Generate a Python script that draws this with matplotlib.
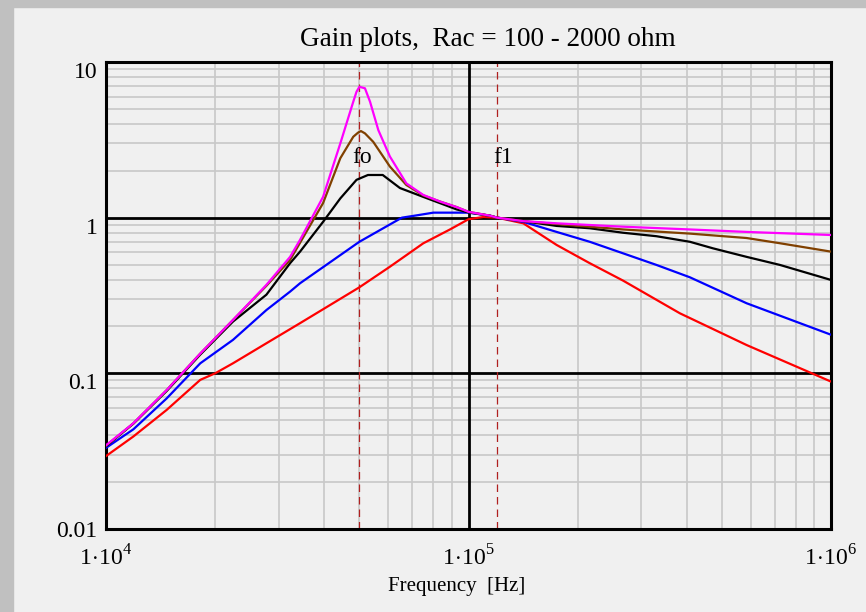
import matplotlib.pyplot as plt
import matplotlib.patches as patches
from matplotlib.ticker import FixedLocator, NullFormatter

plt.rcParams['font.family'] = ['Liberation Serif', 'DejaVu Serif']
plt.rcParams['mathtext.fontset'] = 'custom'
plt.rcParams['mathtext.rm'] = 'Liberation Serif'

# gain curves, one per load resistance (Hz, gain)
f_red = [10e3, 11.9e3, 14.7e3, 18.2e3, 20e3, 22.4e3, 27.7e3, 34.3e3, 39.7e3, 50e3, 60.7e3,
         75e3, 88.9e3, 100e3, 110e3, 120e3, 141.6e3, 175e3, 216e3, 267e3, 383e3, 585e3, 1e6]
g_red = [0.0294, 0.0393, 0.0582, 0.0908, 0.1, 0.116, 0.156, 0.21, 0.258, 0.357, 0.484,
         0.684, 0.84, 0.977, 1.01, 1.0, 0.92, 0.668, 0.51, 0.394, 0.243, 0.152, 0.0885]

f_blue = [10e3, 11.9e3, 14.7e3, 18.2e3, 22.4e3, 27.7e3, 32.2e3, 34.3e3, 50e3, 65.5e3, 72e3,
          80e3, 100e3, 114.6e3, 120e3, 141.6e3, 175e3, 216e3, 267e3, 330e3, 408e3, 585e3, 1e6]
g_blue = [0.0332, 0.0437, 0.069, 0.116, 0.164, 0.255, 0.335, 0.379, 0.70, 1.0, 1.035,
          1.077, 1.077, 1.03, 1.0, 0.94, 0.81, 0.70, 0.59, 0.497, 0.414, 0.282, 0.177]

f_black = [10e3, 11.9e3, 14.7e3, 18.2e3, 22.4e3, 27.7e3, 32.2e3, 34.3e3, 39.7e3, 44.3e3, 49.1e3,
           52.8e3, 58e3, 64.7e3, 75e3, 83.4e3, 92.7e3, 100e3, 114.6e3, 120e3, 141.6e3, 175e3,
           216e3, 267e3, 330e3, 408e3, 473e3, 585e3, 723e3, 1e6]
g_black = [0.034, 0.0475, 0.077, 0.132, 0.215, 0.32, 0.51, 0.605, 0.94, 1.33, 1.75,
           1.88, 1.88, 1.55, 1.36, 1.24, 1.13, 1.08, 1.03, 1.0, 0.95, 0.885,
           0.855, 0.80, 0.76, 0.70, 0.635, 0.56, 0.497, 0.398]

f_brown = [10e3, 11.9e3, 14.7e3, 18.2e3, 22.4e3, 27.7e3, 32.2e3, 39.7e3, 44.3e3, 48.1e3, 49.6e3,
           50.5e3, 51.8e3, 54.6e3, 60.7e3, 67.4e3, 75e3, 83.4e3, 92.7e3, 100e3, 114.6e3, 120e3,
           141.6e3, 175e3, 267e3, 408e3, 585e3, 723e3, 1e6]
g_brown = [0.0343, 0.0477, 0.078, 0.134, 0.22, 0.365, 0.535, 1.24, 2.41, 3.31, 3.52,
           3.6, 3.48, 3.07, 2.13, 1.62, 1.39, 1.27, 1.17, 1.09, 1.03, 1.0,
           0.95, 0.91, 0.84, 0.79, 0.74, 0.685, 0.605]

f_mag = [10e3, 11.9e3, 14.7e3, 18.2e3, 22.4e3, 27.7e3, 32.2e3, 34.3e3, 39.7e3, 44.3e3, 48.1e3,
         49.1e3, 50e3, 51.8e3, 53.5e3, 56.4e3, 60.7e3, 67.4e3, 75e3, 83.4e3, 92.7e3, 100e3,
         114.6e3, 120e3, 141.6e3, 175e3, 267e3, 408e3, 585e3, 1e6]
g_mag = [0.0345, 0.0478, 0.078, 0.134, 0.22, 0.37, 0.56, 0.72, 1.36, 3.0, 5.56,
         6.44, 6.93, 6.78, 5.56, 3.65, 2.47, 1.66, 1.40, 1.27, 1.17, 1.09,
         1.03, 1.0, 0.95, 0.92, 0.875, 0.84, 0.81, 0.774]

fo = 50e3
f1 = 120e3

fig = plt.figure(figsize=(8.66, 6.12), dpi=100, facecolor='#f0f0f0')
# grey window border along top and left
fig.patches.append(patches.Rectangle((0, 1 - 7 / 612), 1, 7 / 612, transform=fig.transFigure,
                                     color='#c0c0c0', zorder=0))
fig.patches.append(patches.Rectangle((0, 0), 13 / 866, 1, transform=fig.transFigure,
                                     color='#c0c0c0', zorder=0))

ax = fig.add_axes([106 / 866, 1 - 529 / 612, 725 / 866, 467 / 612])
ax.set_facecolor('#f0f0f0')
ax.set_xscale('log')
ax.set_yscale('log')
ax.set_xlim(1e4, 1e6)
ax.set_ylim(0.01, 10)

# light minor grid
minor_x = [m * 10 ** d for d in (4, 5) for m in range(2, 10)]
minor_y = [m * 10 ** d for d in (-2, -1, 0) for m in range(2, 10)]
for x in minor_x:
    ax.axvline(x, color='#c8c8c8', lw=1.2, zorder=1)
for y in minor_y:
    ax.axhline(y, color='#c8c8c8', lw=1.2, zorder=1)
# decade lines
ax.axvline(1e5, color='black', lw=2, zorder=2)
ax.axhline(1, color='black', lw=2, zorder=2)
ax.axhline(0.1, color='black', lw=2, zorder=2)

# marker lines at fo and f1
ax.axvline(fo, color='#b02020', lw=0.9, dashes=(6, 4), zorder=2)
ax.axvline(f1, color='#b02020', lw=0.9, dashes=(6, 4), zorder=2)
ax.text(50.8e3, 2.42, 'fo', fontsize=17, ha='center', va='center', zorder=3)
ax.text(124.5e3, 2.42, 'f1', fontsize=17, ha='center', va='center', zorder=3)

ax.plot(f_red, g_red, color='#ff0000', lw=1.6, zorder=4)
ax.plot(f_blue, g_blue, color='#0000ff', lw=1.6, zorder=4)
ax.plot(f_black, g_black, color='black', lw=1.6, zorder=4)
ax.plot(f_brown, g_brown, color='#804000', lw=1.6, zorder=4)
ax.plot(f_mag, g_mag, color='#ff00ff', lw=1.6, zorder=4)

for s in ax.spines.values():
    s.set_linewidth(2.2)

ax.xaxis.set_major_locator(FixedLocator([1e4, 1e5, 1e6]))
ax.xaxis.set_minor_formatter(NullFormatter())
ax.set_xticklabels([r'$1\!\cdot\!10^{4}$', r'$1\!\cdot\!10^{5}$', r'$1\!\cdot\!10^{6}$'])
ax.yaxis.set_major_locator(FixedLocator([0.01, 0.1, 1, 10]))
ax.yaxis.set_minor_formatter(NullFormatter())
ax.set_yticklabels(['0.01', '0.1', '1', '10'])
ax.tick_params(which='both', length=0, labelsize=17)
ax.tick_params(axis='x', pad=12)
ax.tick_params(axis='y', pad=6)
for lbl in ax.get_yticklabels()[1:]:
    lbl.set_verticalalignment('top')

fig.text(488 / 866, 1 - 40 / 612, 'Gain plots,  Rac = 100 - 2000 ohm', fontsize=19.5,
         ha='center', va='center')
fig.text(457 / 866, 1 - 586 / 612, 'Frequency  [Hz]', fontsize=15, ha='center', va='center')

fig.savefig('out.png', dpi=100, facecolor=fig.get_facecolor())
